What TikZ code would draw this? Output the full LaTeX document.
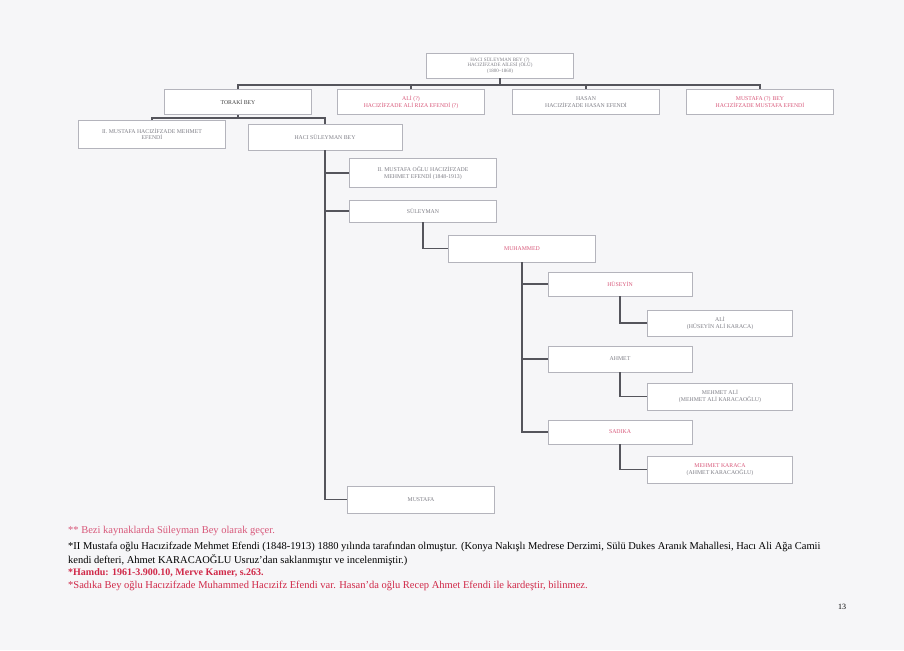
\documentclass[tikz,border=0pt]{standalone}
\usepackage{fontspec}
\setmainfont{Liberation Serif}
\definecolor{pagebg}{HTML}{F6F6F8}
\definecolor{boxline}{HTML}{B4B4BC}
\definecolor{conn}{HTML}{55555C}
\definecolor{pinktxt}{HTML}{D8587A}
\definecolor{graytxt}{HTML}{7E7E86}
\definecolor{redtxt}{HTML}{D02848}
\tikzset{
  box/.style={draw=boxline, line width=0.9pt, fill=white, minimum width=147pt, minimum height=25pt,
    inner sep=1pt, align=center, font=\fontsize{5.8}{6.6}\selectfont, text=graytxt},
  pinkbox/.style={box, text=pinktxt},
  link/.style={draw=conn, line width=1.8pt},
  note/.style={anchor=west, inner sep=0pt, font=\fontsize{10.5}{12}\selectfont},
}
\begin{document}
\begin{tikzpicture}[x=1pt, y=-1pt]
\fill[pagebg] (0,0) rectangle (904,650);
\useasboundingbox (0,0) rectangle (904,650);
% boxes
\node[box, font=\fontsize{5}{5.8}\selectfont] (root) at (500,65.5) {HACI SÜLEYMAN BEY (?)\\HACIZİFZADE AİLESİ (ÖLÜ)\\(1800--1860)};
\node[box, text=black!75] (A) at (238,102) {TORAKİ BEY};
\node[pinkbox] (B) at (411,102) {ALİ (?)\\HACIZİFZADE ALİ RIZA EFENDİ (?)};
\node[box] (C) at (586,102) {HASAN\\HACIZİFZADE HASAN EFENDİ};
\node[pinkbox] (D) at (760,102) {MUSTAFA (?) BEY\\HACIZİFZADE MUSTAFA EFENDİ};
\node[box, minimum height=28pt] (E) at (152,134) {II. MUSTAFA HACIZİFZADE MEHMET\\EFENDİ};
\node[box, minimum width=154pt, minimum height=26pt] (F) at (325,137) {HACI SÜLEYMAN BEY};
\node[box, minimum height=29pt] (G) at (423,173) {II. MUSTAFA OĞLU HACIZİFZADE\\MEHMET EFENDİ (1848-1913)};
\node[box, minimum height=22pt] (H) at (423,211) {SÜLEYMAN};
\node[pinkbox, minimum height=27pt] (I) at (522,248.5) {MUHAMMED};
\node[pinkbox, minimum width=144pt, minimum height=24pt] (J) at (620,284) {HÜSEYİN};
\node[box, minimum width=144pt, minimum height=26pt] (K) at (620,359) {AHMET};
\node[pinkbox, minimum width=144pt, minimum height=24pt] (L) at (620,432) {SADIKA};
\node[box, minimum width=145pt, minimum height=26pt] (M) at (720,323) {ALİ\\(HÜSEYİN ALİ KARACA)};
\node[box, minimum width=145pt, minimum height=27pt] (N) at (720,396.5) {MEHMET ALİ\\(MEHMET ALİ KARACAOĞLU)};
\node[box, minimum width=145pt, minimum height=27pt] (O) at (720,469.5) {\textcolor{pinktxt}{MEHMET KARACA}\\(AHMET KARACAOĞLU)};
\node[box, minimum height=27pt] (P) at (421,499.5) {MUSTAFA};
% connectors
\coordinate (bus) at (0,85);
\coordinate (bus2) at (0,118);
\draw[link] (root.south) -- (root.south |- bus);
\draw[link] (A.north) -- (A.north |- bus) -- (D.north |- bus) -- (D.north);
\draw[link] (B.north) -- (B.north |- bus);
\draw[link] (C.north) -- (C.north |- bus);
\draw[link] (A.south) -- (A.south |- bus2);
\draw[link] (E.north) -- (E.north |- bus2) -- (F.north |- bus2) -- (F.north);
\draw[link] (F.south) |- (P.west);
\draw[link] (F.south |- G.west) -- (G.west);
\draw[link] (F.south |- H.west) -- (H.west);
\draw[link] (H.south) |- (I.west);
\draw[link] (I.south) |- (L.west);
\draw[link] (I.south |- J.west) -- (J.west);
\draw[link] (I.south |- K.west) -- (K.west);
\draw[link] (J.south) |- (M.west);
\draw[link] (K.south) |- (N.west);
\draw[link] (L.south) |- (O.west);
% notes
\node[note, text=pinktxt] (n1) at (68,531) {** Bezi kaynaklarda Süleyman Bey olarak geçer.};
\node[note] (n2) at (68,547) {*II Mustafa oğlu Hacızifzade Mehmet Efendi (1848-1913) 1880 yılında tarafından olmuştur. (Konya Nakışlı Medrese Derzimi, Sülü Dukes Aranık Mahallesi, Hacı Ali Ağa Camii};
\node[note] (n3) at (68,560) {kendi defteri, Ahmet KARACAOĞLU Usruz'dan saklanmıştır ve incelenmiştir.)};
\node[note, text=redtxt, font=\fontsize{10}{11}\selectfont\bfseries] (n4) at (68,573) {*Hamdu: 1961-3.900.10, Merve Kamer, s.263.};
\node[note, text=redtxt] (n5) at (68,586) {*Sadıka Bey oğlu Hacızifzade Muhammed Hacızifz Efendi var. Hasan'da oğlu Recep Ahmet Efendi ile kardeştir, bilinmez.};
\node[note, font=\fontsize{8}{9}\selectfont] (pg) at (838,607) {13};
\end{tikzpicture}
\end{document}
